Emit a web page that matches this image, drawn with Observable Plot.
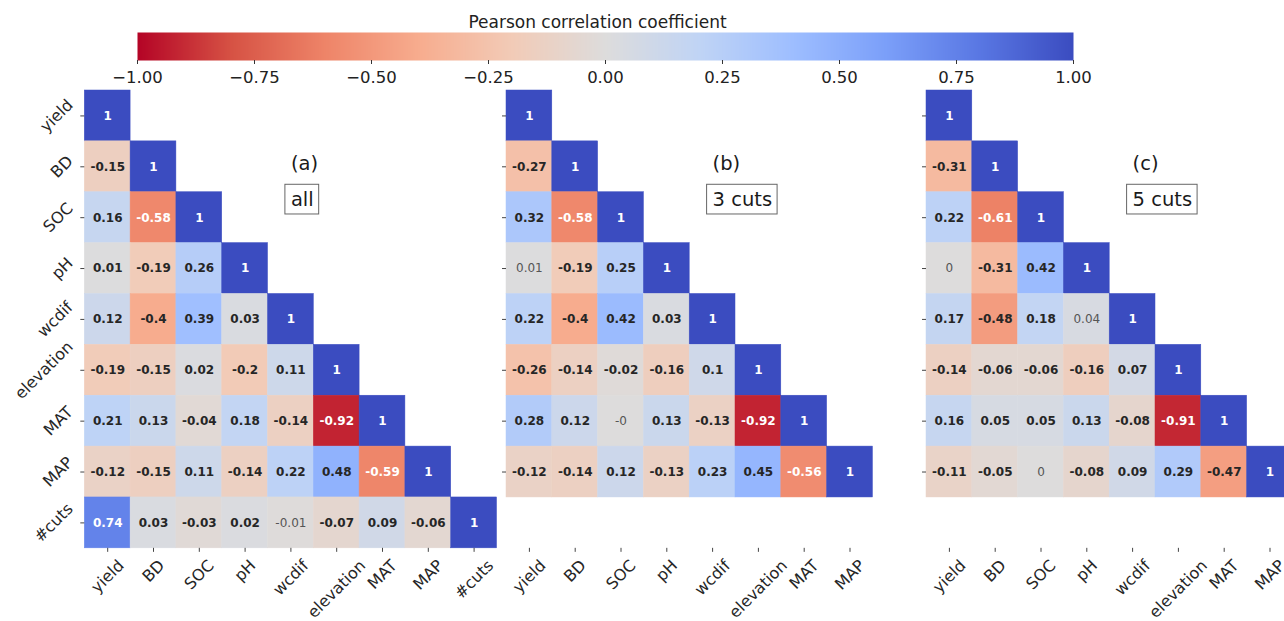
<!DOCTYPE html>
<html><head><meta charset="utf-8">
<script src="https://cdn.jsdelivr.net/npm/d3@7"></script>
<script src="https://cdn.jsdelivr.net/npm/@observablehq/plot@0.6"></script>
<style>
html,body{margin:0;padding:0;background:#fff;overflow:hidden}
#chart{position:relative;width:1284px;height:621px;overflow:hidden;font-family:"DejaVu Sans",sans-serif}
#chart svg{position:absolute;left:0;top:0;max-width:none}
</style></head><body><div id="chart"></div>
<script>
// ---------------- data ----------------
const varsAll = ["yield","BD","SOC","pH","wcdif","elevation","MAT","MAP","#cuts"];
const varsCut = ["yield","BD","SOC","pH","wcdif","elevation","MAT","MAP"];
const corrAll = [
  [1],
  [-0.15, 1],
  [0.16, -0.58, 1],
  [0.01, -0.19, 0.26, 1],
  [0.12, -0.4, 0.39, 0.03, 1],
  [-0.19, -0.15, 0.02, -0.2, 0.11, 1],
  [0.21, 0.13, -0.04, 0.18, -0.14, -0.92, 1],
  [-0.12, -0.15, 0.11, -0.14, 0.22, 0.48, -0.59, 1],
  [0.74, 0.03, -0.03, 0.02, -0.01, -0.07, 0.09, -0.06, 1]
];
const corr3 = [
  [1],
  [-0.27, 1],
  [0.32, -0.58, 1],
  [0.01, -0.19, 0.25, 1],
  [0.22, -0.4, 0.42, 0.03, 1],
  [-0.26, -0.14, -0.02, -0.16, 0.1, 1],
  [0.28, 0.12, -0, 0.13, -0.13, -0.92, 1],
  [-0.12, -0.14, 0.12, -0.13, 0.23, 0.45, -0.56, 1]
];
const corr5 = [
  [1],
  [-0.31, 1],
  [0.22, -0.61, 1],
  [0, -0.31, 0.42, 1],
  [0.17, -0.48, 0.18, 0.04, 1],
  [-0.14, -0.06, -0.06, -0.16, 0.07, 1],
  [0.16, 0.05, 0.05, 0.13, -0.08, -0.91, 1],
  [-0.11, -0.05, 0, -0.08, 0.09, 0.29, -0.47, 1]
];
// cells shown in plain (non-bold) grey text: [row, col]
const weakAll = [[8, 4]];
const weak3 = [[3, 0], [6, 2]];
const weak5 = [[3, 0], [4, 3], [7, 2]];
const panelLetters = ["(a)", "(b)", "(c)"];
const panelNames = ["all", "3 cuts", "5 cuts"];
const cbTicks = [-1, -0.75, -0.5, -0.25, 0, 0.25, 0.5, 0.75, 1];
const cbLabel = "Pearson correlation coefficient";
// matplotlib "coolwarm" anchors (blue -> red), used reversed
const coolwarm = ["#3b4cc0","#5977e3","#7b9ff9","#9ebeff","#c0d4f5","#dddcdc","#f2cbb7","#f7ac8e","#ee8468","#d65244","#b40426"];

// ---------------- layout ----------------
const W = 1284, H = 621, SVG_W = 1300;
const CELL_W = 45.8, CELL_H = 50.87, TOP = 90, NROWS = 9;
const LEFTS = [84.3, 506, 926];
const AX_FS = 16, CELL_FS = 12, ANN_FS = 19.5, TICK = 4, PAD = 4;
const FONT = "DejaVu Sans";

const cw = d3.piecewise(d3.interpolateRgb, coolwarm);
const interp = t => cw(1 - t);
const colorOf = v => interp((v + 1) / 2);
function lum(c) {
  const {r, g, b} = d3.rgb(c);
  const f = x => { x /= 255; return x <= 0.03928 ? x / 12.92 : Math.pow((x + 0.055) / 1.055, 2.4); };
  return 0.2126 * f(r) + 0.7152 * f(g) + 0.0722 * f(b);
}
const ctx = document.createElement("canvas").getContext("2d");
function measure(s, fs, weight = "normal") { ctx.font = `${weight} ${fs}px "${FONT}"`; return ctx.measureText(s).width; }
const fmt = v => Object.is(v, -0) ? "-0" : String(v);
const colorScale = {type: "linear", domain: [-1, 1], interpolate: interp};

function panel(vars, corr, weak, letter, name, left, showY) {
  const n = vars.length;
  const cells = [];
  corr.forEach((row, i) => row.forEach((v, j) => cells.push({i, j, v, weak: weak.some(([a, b]) => a === i && b === j)})));
  const dx = p => p / CELL_W, dy = p => p / CELL_H;
  const h = 1.164 * AX_FS;
  const xLab = vars.map((s, j) => {
    const half = 0.7071 * (measure(s, AX_FS) + h) / 2;
    return {s, x: j + 0.5, y: NROWS + dy(TICK + PAD + half)};
  });
  const yLab = showY ? vars.map((s, i) => {
    const half = 0.7071 * (measure(s, AX_FS) + h) / 2;
    return {s, y: i + 0.5, x: -dx(TICK + PAD + half)};
  }) : [];
  // annotation: letter and boxed name
  const annX = 4.5;
  const L = measure(name, ANN_FS);
  const base = 2.274; // baseline row of boxed label
  const box = [{x1: annX - dx(5.5), x2: annX + dx(L + 5.5), y1: base - dy(0.928 * ANN_FS + 3.3), y2: base + dy(0.236 * ANN_FS + 3.7)}];
  return Plot.plot({
    width: SVG_W, height: H,
    marginTop: TOP, marginBottom: H - TOP - NROWS * CELL_H,
    marginLeft: left, marginRight: SVG_W - left - n * CELL_W,
    x: {domain: [0, n], axis: null},
    y: {domain: [0, NROWS], reverse: true, axis: null},
    color: colorScale,
    style: {background: "transparent", fontFamily: FONT, overflow: "visible", maxWidth: "none"},
    marks: [
      Plot.rect(cells, {x1: "j", x2: d => d.j + 1, y1: "i", y2: d => d.i + 1, fill: "v", stroke: "v", strokeWidth: 0.5}),
      Plot.text(cells.filter(d => !d.weak), {x: d => d.j + 0.5, y: d => d.i + 0.5, text: d => fmt(d.v),
        fill: d => lum(colorOf(d.v)) > 0.408 ? "#262626" : "#ffffff", fontWeight: "bold", fontSize: CELL_FS}),
      Plot.text(cells.filter(d => d.weak), {x: d => d.j + 0.5, y: d => d.i + 0.5, text: d => fmt(d.v),
        fill: "#555555", fontSize: CELL_FS}),
      Plot.axisX(vars.map((_, j) => j + 0.5), {anchor: "bottom", tickSize: TICK, tickFormat: () => "", label: null, stroke: "#444"}),
      Plot.axisY(vars.map((_, i) => i + 0.5), {anchor: "left", tickSize: TICK, tickFormat: () => "", label: null, stroke: "#444"}),
      Plot.text(xLab, {x: "x", y: "y", text: "s", rotate: -45, textAnchor: "middle", lineAnchor: "middle", fontSize: AX_FS, fill: "#262626"}),
      Plot.text(yLab, {x: "x", y: "y", text: "s", rotate: -45, textAnchor: "middle", lineAnchor: "middle", fontSize: AX_FS, fill: "#262626"}),
      Plot.text([letter], {x: annX, y: 1.434, text: d => d, textAnchor: "start", lineAnchor: "middle", fontSize: ANN_FS, fill: "#1a1a1a"}),
      Plot.rect(box, {x1: "x1", x2: "x2", y1: "y1", y2: "y2", fill: "white", stroke: "#666", strokeWidth: 1}),
      Plot.text([name], {x: annX, y: base - dy(0.32 * ANN_FS), text: d => d, textAnchor: "start", lineAnchor: "middle", fontSize: ANN_FS, fill: "#1a1a1a"})
    ]
  });
}

const chart = document.getElementById("chart");
const colorbar = Plot.plot({
  width: W, height: 100,
  marginLeft: 137, marginRight: W - 1073, marginTop: 32, marginBottom: 40,
  x: {domain: [-1, 1], axis: null},
  y: {domain: [0, 1], axis: null},
  color: colorScale,
  style: {background: "transparent", fontFamily: FONT, overflow: "visible", maxWidth: "none"},
  marks: [
    Plot.raster({x1: -1, x2: 1, y1: 0, y2: 1, width: 936, height: 1, fill: (x, y) => x, imageRendering: "auto"}),
    Plot.axisX(cbTicks, {anchor: "bottom", tickSize: 4, tickPadding: 7, tickFormat: d3.format(".2f"), fontSize: 16.5, label: null, stroke: "#333", fill: "#222"}),
    Plot.text([cbLabel], {frameAnchor: "top", dx: -8, dy: -9.9, text: d => d, lineAnchor: "middle", fontSize: 17, fill: "#222"})
  ]
});
chart.appendChild(colorbar);
chart.appendChild(panel(varsAll, corrAll, weakAll, panelLetters[0], panelNames[0], LEFTS[0], true));
chart.appendChild(panel(varsCut, corr3, weak3, panelLetters[1], panelNames[1], LEFTS[1], false));
chart.appendChild(panel(varsCut, corr5, weak5, panelLetters[2], panelNames[2], LEFTS[2], false));
</script></body></html>
